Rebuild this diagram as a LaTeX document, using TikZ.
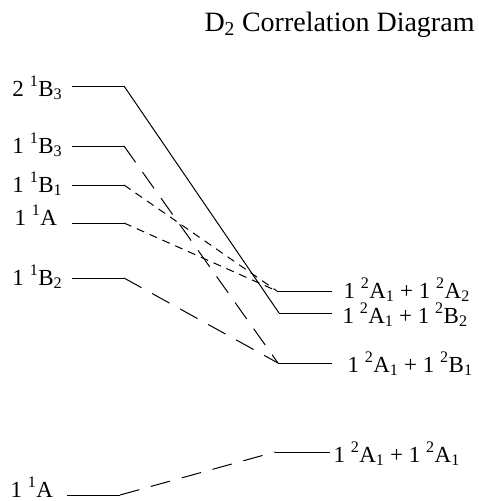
\documentclass[tikz,border=0pt]{standalone}
\usepackage{fontspec}
\setmainfont{Liberation Serif}
\begin{document}
\begin{tikzpicture}[x=1pt,y=-1pt,line width=1pt,
  lbl/.style={anchor=base west,inner sep=0pt,font=\fontsize{23}{27}\selectfont},
  lvl/.style={draw,line width=1pt},
  longdash/.style={draw,line width=1pt,dash pattern=on 20pt off 12pt},
  shortdash/.style={draw,line width=1pt,dash pattern=on 8pt off 6pt}]
\useasboundingbox (0,0) rectangle (479,501);
% title
\node[anchor=base east,inner sep=0pt,font=\fontsize{28}{32}\selectfont] (title) at (475,31) {D\textsubscript{2} Correlation Diagram};
% left levels
\coordinate (L1a) at (72,86);  \coordinate (L1b) at (124,86);
\coordinate (L2a) at (72,146); \coordinate (L2b) at (124,146);
\coordinate (L3a) at (72,185); \coordinate (L3b) at (124,185);
\coordinate (L4a) at (72,223); \coordinate (L4b) at (124,223);
\coordinate (L5a) at (72,278); \coordinate (L5b) at (124,278);
\coordinate (L6a) at (67,495); \coordinate (L6b) at (120,495);
\node[lbl] (t1) at (12,96) {2 \textsuperscript{1}B\textsubscript{3}};
\node[lbl] (t2) at (12,153) {1 \textsuperscript{1}B\textsubscript{3}};
\node[lbl] (t3) at (12,192) {1 \textsuperscript{1}B\textsubscript{1}};
\node[lbl] (t4) at (14,225) {1 \textsuperscript{1}A};
\node[lbl] (t5) at (12,285) {1 \textsuperscript{1}B\textsubscript{2}};
\node[lbl] (t6) at (10,497) {1 \textsuperscript{1}A};
% right levels
\coordinate (R1a) at (277,291); \coordinate (R1b) at (332,291);
\coordinate (R2a) at (279,313); \coordinate (R2b) at (332,313);
\coordinate (R3a) at (278,363); \coordinate (R3b) at (332,363);
\coordinate (R4a) at (275,452); \coordinate (R4b) at (330,452);
\node[lbl] (r1) at (343,298) {1 \textsuperscript{2}A\textsubscript{1} + 1 \textsuperscript{2}A\textsubscript{2}};
\node[lbl] (r2) at (342,323) {1 \textsuperscript{2}A\textsubscript{1} + 1 \textsuperscript{2}B\textsubscript{2}};
\node[lbl] (r3) at (347,372) {1 \textsuperscript{2}A\textsubscript{1} + 1 \textsuperscript{2}B\textsubscript{1}};
\node[lbl] (r4) at (333,462) {1 \textsuperscript{2}A\textsubscript{1} + 1 \textsuperscript{2}A\textsubscript{1}};
% level lines
\foreach \n in {L1,L2,L3,L4,L5,L6,R1,R2,R3,R4} {\draw[lvl] (\n a) -- (\n b);}
% correlations
\draw[lvl] (L1b) -- (R2a);
\draw[longdash] (L2b) -- (R3a);
\draw[shortdash] (L3b) -- (R1a);
\draw[shortdash] (L4b) -- (R1a);
\draw[longdash] (L5b) -- (R3a);
\draw[longdash] (L6b) -- (R4a);
\end{tikzpicture}
\end{document}
